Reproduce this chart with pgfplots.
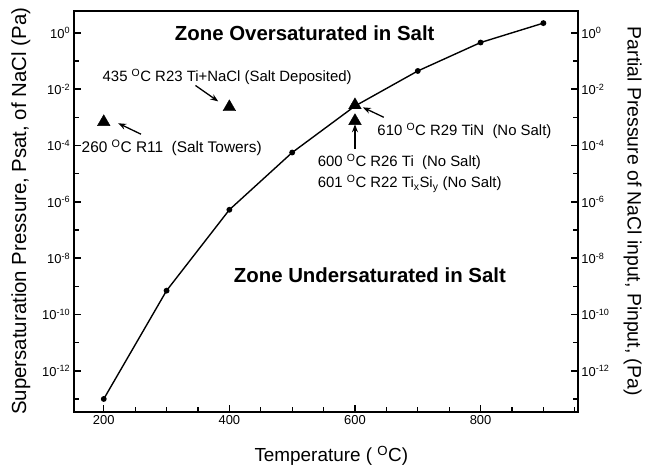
\documentclass[border=0pt]{standalone}
\usepackage{fontspec}
\setmainfont{Liberation Sans}
\usepackage{pgfplots}
\pgfplotsset{compat=1.18}
\usetikzlibrary{arrows.meta}
\begin{document}
\begin{tikzpicture}
\begin{axis}[name=main,
    scale only axis, width=507pt, height=403.3pt,
    xmin=152, xmax=955,
    ymode=log, ymin=3.5e-14, ymax=6.1,
    axis line style={black, line width=2pt},
    major tick style={black, line width=1.5pt},
    minor tick style={black, line width=1.3pt},
    tick align=inside,
    major tick length=7pt, minor tick length=5pt,
    ytick={1e-12,1e-10,1e-8,1e-6,1e-4,1e-2,1},
    yticklabels={10\textsuperscript{-12},10\textsuperscript{-10},10\textsuperscript{-8},10\textsuperscript{-6},10\textsuperscript{-4},10\textsuperscript{-2},10\textsuperscript{0}},
    minor ytick={1e-13,1e-11,1e-9,1e-7,1e-5,1e-3,1e-1},
    ticklabel style={font=\fontsize{13}{13}\selectfont},
    /pgf/number format/assume math mode=true,
    clip=false,
  xtick={200,400,600,800},
  xticklabels={200,400,600,800},
  minor xtick={250,300,350,450,500,550,650,700,750,850,900,950},
  xtick pos=bottom, ytick pos=left,
  xlabel={Temperature ( \textsuperscript{O}C)},
  xlabel style={at={(axis description cs:0.511,-0.109)}, anchor=center, font=\fontsize{19}{19}\selectfont},
  ylabel={Supersaturation Pressure, Psat, of NaCl (Pa)},
  ylabel style={at={(axis description cs:-0.1045,0.5)}, anchor=center, font=\fontsize{20.5}{20.5}\selectfont},
]
\addplot[black, line width=1.4pt, mark=*, mark size=2.2pt] coordinates {
 (200,1e-13) (300,7e-10) (400,5.2e-7) (500,5.6e-5) (600,2.5e-3) (700,0.044) (800,0.45) (900,2.2)
};
\addplot[black, only marks, mark=triangle*, mark size=7.3pt] coordinates {
 (200,6.8e-4) (400,2.3e-3) (600,2.7e-3) (600,7.4e-4)
};
\node[font=\fontsize{20.5}{20.5}\selectfont\bfseries] at (axis cs:520,1) {Zone Oversaturated in Salt};
\node[font=\fontsize{20.5}{20.5}\selectfont\bfseries] at (axis cs:623.7,2.438e-9) {Zone Undersaturated in Salt};
\node[font=\fontsize{15}{15}\selectfont] at (axis cs:396.5,2.8e-2) {435 \textsuperscript{O}C R23 Ti+NaCl (Salt Deposited)};
\node[font=\fontsize{15.5}{15.5}\selectfont] at (axis cs:308.2,8.04e-5) {260 \textsuperscript{O}C R11\ \ (Salt Towers)};
\node[font=\fontsize{15}{15}\selectfont] at (axis cs:774.3,3.2e-4) {610 \textsuperscript{O}C R29 TiN\ \ (No Salt)};
\node[font=\fontsize{15}{15}\selectfont, anchor=west] at (axis cs:535.3,2.576e-5) {600 \textsuperscript{O}C R26 Ti\ \ (No Salt)};
\node[font=\fontsize{15}{15}\selectfont, anchor=west] at (axis cs:535.3,4.315e-6) {601 \textsuperscript{O}C R22 Ti\textsubscript{x}Si\textsubscript{y} (No Salt)};
\draw[-{Stealth[length=8pt,width=6pt]}, line width=1.3pt] (axis cs:346,1.346e-2) -- (axis cs:382.3,3.66e-3);
\draw[-{Stealth[length=8pt,width=6pt]}, line width=1.3pt] (axis cs:259.3,2.506e-4) -- (axis cs:223,6.14e-4);
\draw[-{Stealth[length=8pt,width=6pt]}, line width=1.3pt] (axis cs:645.8,1.0e-3) -- (axis cs:612.6,2.25e-3);
\draw[-{Stealth[length=8pt,width=6pt]}, line width=1.3pt] (axis cs:600,7.41e-5) -- (axis cs:600,5.65e-4);
\end{axis}
\begin{axis}[
    scale only axis, width=507pt, height=403.3pt,
    xmin=152, xmax=955,
    ymode=log, ymin=3.5e-14, ymax=6.1,
    axis line style={black, line width=2pt},
    major tick style={black, line width=1.5pt},
    minor tick style={black, line width=1.3pt},
    tick align=inside,
    major tick length=7pt, minor tick length=5pt,
    ytick={1e-12,1e-10,1e-8,1e-6,1e-4,1e-2,1},
    yticklabels={10\textsuperscript{-12},10\textsuperscript{-10},10\textsuperscript{-8},10\textsuperscript{-6},10\textsuperscript{-4},10\textsuperscript{-2},10\textsuperscript{0}},
    minor ytick={1e-13,1e-11,1e-9,1e-7,1e-5,1e-3,1e-1},
    ticklabel style={font=\fontsize{13}{13}\selectfont},
    /pgf/number format/assume math mode=true,
  axis x line=none, axis y line*=right,
  ylabel={Partial Pressure of NaCl input, Pinput, (Pa)},
  ylabel style={at={(axis description cs:1.1085,0.5)}, anchor=center, rotate=180, font=\fontsize{19.5}{19.5}\selectfont},
]
\addplot[draw=none] coordinates {(200,1)};
\end{axis}
\path ([xshift=-74pt,yshift=-57pt]main.south west) rectangle ([xshift=64pt,yshift=10.7pt]main.north east);
\end{tikzpicture}
\end{document}
